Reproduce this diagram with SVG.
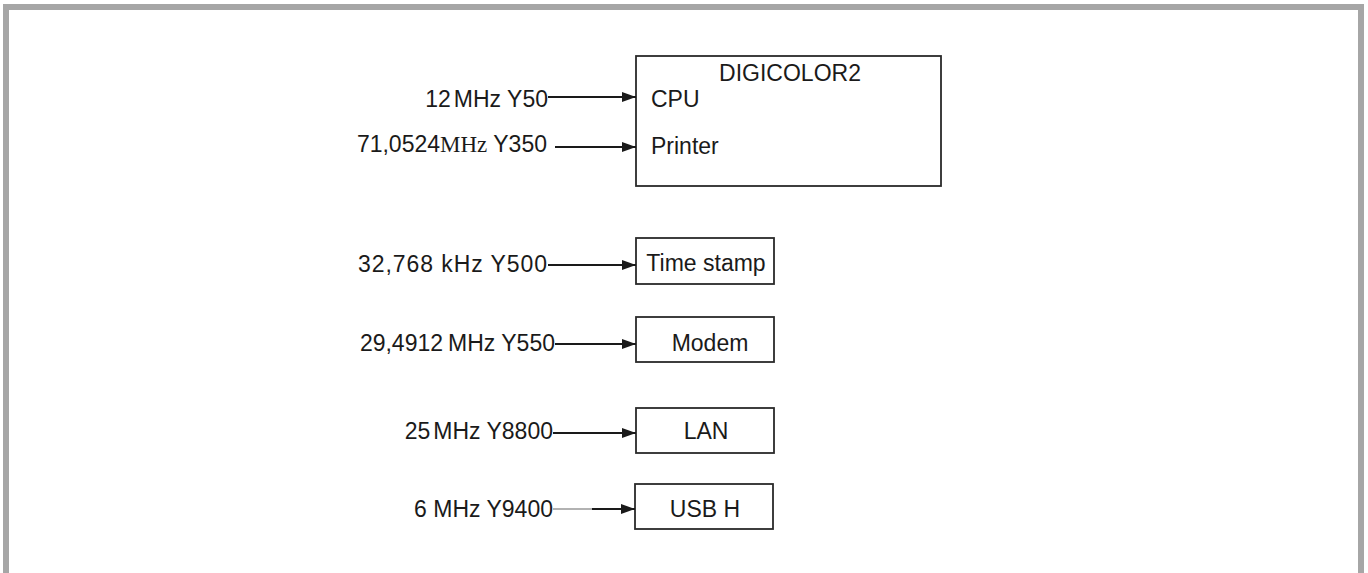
<svg xmlns="http://www.w3.org/2000/svg" width="1368" height="573" viewBox="0 0 1368 573">
  <style>
    .frame { fill: none; stroke: #a6a6a6; stroke-width: 6; stroke-linejoin: miter; }
    .box { fill: #ffffff; stroke: #2a2a2a; stroke-width: 1.8; }
    .txt { font-family: "Liberation Sans", Arial, sans-serif; font-size: 23px; fill: #1a1a1a; }
    .serif { font-family: "Liberation Serif", "Times New Roman", serif; }
    .wire { stroke: #1a1a1a; stroke-width: 1.8; fill: none; marker-end: url(#arrow); }
    .wire.thin { stroke: #666666; stroke-width: 1.1; marker-end: none; }
  </style>
  <defs>
    <marker id="arrow" viewBox="0 0 14 10" refX="14" refY="5" markerWidth="14" markerHeight="10" markerUnits="userSpaceOnUse" orient="auto">
      <path d="M0,0 L14,5 L0,10 Z" fill="#1a1a1a"/>
    </marker>
  </defs>

  <rect width="1368" height="573" fill="#ffffff"/>
  <!-- outer frame: left, top and right edges only -->
  <path class="frame" d="M6,573 V7 H1361 V573"/>

  <!-- main controller block -->
  <g id="digicolor2">
    <rect class="box" x="636" y="56" width="305" height="130"/>
    <text class="txt" x="790" y="81" text-anchor="middle">DIGICOLOR2</text>
    <text class="txt" x="651" y="107">CPU</text>
    <text class="txt" x="651" y="154">Printer</text>
  </g>

  <g id="timestamp">
    <rect class="box" x="636" y="238" width="138" height="46"/>
    <text class="txt" x="706" y="271" text-anchor="middle">Time stamp</text>
  </g>

  <g id="modem">
    <rect class="box" x="636" y="317" width="138" height="45"/>
    <text class="txt" x="710" y="351" text-anchor="middle">Modem</text>
  </g>

  <g id="lan">
    <rect class="box" x="636" y="408" width="138" height="45"/>
    <text class="txt" x="706" y="439" text-anchor="middle">LAN</text>
  </g>

  <g id="usbh">
    <rect class="box" x="635" y="484" width="138" height="45"/>
    <text class="txt" x="705" y="517" text-anchor="middle">USB H</text>
  </g>

  <!-- crystal labels -->
  <g id="labels">
    <text class="txt" x="548" y="107" text-anchor="end">12<tspan dx="3">MHz Y50</tspan></text>
    <text class="txt" x="547" y="152" text-anchor="end">71,0524<tspan class="serif">MHz</tspan> Y350</text>
    <text class="txt" x="358" y="272" textLength="189" lengthAdjust="spacing">32,768 kHz Y500</text>
    <text class="txt" x="555" y="351" text-anchor="end">29,4912<tspan dx="5">MHz Y550</tspan></text>
    <text class="txt" x="553" y="439" text-anchor="end">25<tspan dx="3">MHz Y8800</tspan></text>
    <text class="txt" x="553" y="517" text-anchor="end">6 MHz Y9400</text>
  </g>

  <!-- clock connectors -->
  <g id="connectors">
    <line class="wire" x1="548" y1="97" x2="636" y2="97"/>
    <line class="wire" x1="555" y1="147" x2="636" y2="147"/>
    <line class="wire" x1="548" y1="265" x2="636" y2="265"/>
    <line class="wire" x1="555" y1="344" x2="636" y2="344"/>
    <line class="wire" x1="553" y1="433" x2="636" y2="433"/>
    <line class="wire thin" x1="553" y1="509" x2="592" y2="509"/>
    <line class="wire" x1="592" y1="509" x2="635" y2="509"/>
  </g>
</svg>
